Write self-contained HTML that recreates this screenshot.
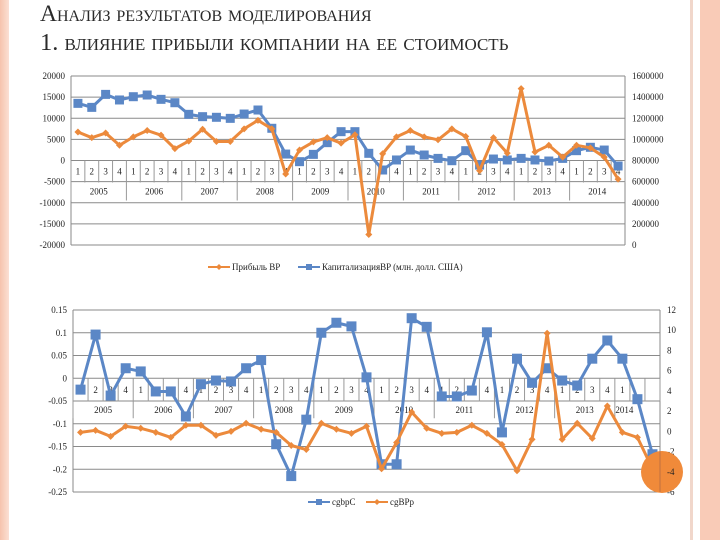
<!DOCTYPE html>
<html><head><meta charset="utf-8"><style>
body{margin:0;width:720px;height:540px;background:#fff;overflow:hidden;position:relative;font-family:"Liberation Serif",serif}
#lb{position:absolute;left:0;top:0;width:9px;height:540px;background:linear-gradient(90deg,#f6c3ad,#fbe0d4)}
#rb1{position:absolute;left:690px;top:0;width:3px;height:540px;background:#f1d7cb}
#rb2{position:absolute;left:700px;top:0;width:20px;height:540px;background:#f9cbb7}
.t{position:absolute;left:40px;color:#2a2a2a;font-variant:small-caps;white-space:nowrap}
</style></head><body>
<div id="lb"></div>
<div id="rb1"></div>
<div id="rb2"></div>
<div class="t" style="top:1px;font-size:23.5px">Анализ результатов моделирования</div>
<div class="t" style="top:29px;font-size:24.5px">1. влияние прибыли компании на ее стоимость</div>
<svg id="c" width="720" height="540" style="position:absolute;left:0;top:0"></svg>
<script>
const years=["2005","2006","2007","2008","2009","2010","2011","2012","2013","2014"];
const leftTicks1=["20000","15000","10000","5000","0","-5000","-10000","-15000","-20000"];
const rightTicks1=["1600000","1400000","1200000","1000000","800000","600000","400000","200000","0"];
const profit=[6750,5400,6500,3600,5600,7100,6000,2800,4600,7400,4500,4500,7500,9500,7500,-3200,2500,4400,5400,4100,6100,-17500,1600,5600,7100,5600,4900,7500,5700,-2400,5400,1750,17000,2000,3600,800,3600,3000,800,-4400];
const cap=[1341000,1303000,1426000,1373000,1404000,1420000,1379000,1347000,1237000,1215000,1209000,1199000,1240000,1278000,1105000,861000,789000,858000,969000,1073000,1073000,868000,710000,805000,899000,852000,820000,798000,893000,757000,814000,805000,820000,805000,795000,820000,893000,925000,899000,748000];
const leftTicks2=["0.15","0.1","0.05","0","-0.05","-0.1","-0.15","-0.2","-0.25"];
const rightTicks2=["12","10","8","6","4","2","0","-2","-4","-6"];
const cgbpC=[-0.025,0.096,-0.038,0.022,0.015,-0.029,-0.029,-0.084,-0.013,-0.005,-0.007,0.022,0.04,-0.145,-0.215,-0.091,0.1,0.122,0.114,0.002,-0.189,-0.189,0.132,0.113,-0.04,-0.04,-0.027,0.101,-0.119,0.043,-0.01,0.022,-0.005,-0.016,0.043,0.083,0.043,-0.046,-0.167];
const cgBPp=[-0.1,0.1,-0.5,0.5,0.3,-0.1,-0.6,0.6,0.6,-0.4,0,0.8,0.2,-0.1,-1.4,-1.8,0.8,0.2,-0.2,0.5,-3.7,-1.1,1.9,0.3,-0.2,-0.1,0.6,-0.2,-1.3,-3.9,-0.8,9.7,-0.8,0.8,-0.7,2.5,-0.1,-0.6,-3.7];

const svg=document.getElementById('c');const NS="http://www.w3.org/2000/svg";
function el(t,a,txt){const e=document.createElementNS(NS,t);for(const k in a)e.setAttribute(k,a[k]);if(txt!==undefined)e.textContent=txt;svg.appendChild(e);return e;}
const F='font-family:"Liberation Serif",serif;font-size:9px;fill:#222';

function chart(o){
  const {x0,x1,yT,yB,lMin,lMax,rMin,rMax,n,qLabels,yearRow,name}=o;
  const w=(x1-x0)/n;
  const yl=v=>yB-(v-lMin)/(lMax-lMin)*(yB-yT);
  const yr=v=>yB-(v-rMin)/(rMax-rMin)*(yB-yT);
  const xc=i=>x0+w*(i+0.5);
  o.lt.forEach(t=>{const y=yl(+t);
    let g=el('line',{x1:x0,x2:x1,y1:y,y2:y,stroke:'#8a8a8a','stroke-width':1});
    
    let tx=el('text',{x:x0-6,y:y+3,'text-anchor':'end',style:F},t);
    });
  o.rt.forEach(t=>{const y=yr(+t);
    let tx=el('text',{x:x1+7,y:y+3,style:F},t);
    });
  el('line',{x1:x0,x2:x0,y1:yT,y2:yB,stroke:'#8a8a8a'});
  el('line',{x1:x1,x2:x1,y1:yT,y2:yB,stroke:'#8a8a8a'});
  const z=yl(0);
  for(let i=0;i<n;i++){
    el('line',{x1:x0+w*i,x2:x0+w*i,y1:z,y2:z+o.qh,stroke:'#999'});
    let q=el('text',{x:xc(i),y:z+o.qh/2+3,'text-anchor':'middle',style:F},qLabels[i]);
    
  }
  el('line',{x1:x0+w*n,x2:x0+w*n,y1:z,y2:z+o.qh,stroke:'#999'});
  years.forEach((yv,k)=>{const s=k*4,e=Math.min(n,s+4);
    el('line',{x1:x0+w*s,x2:x0+w*s,y1:z+o.qh,y2:z+o.qh+o.yh,stroke:'#999'});
    let t=el('text',{x:x0+w*(s+e)/2+(k==9?o.lastShift:0),y:z+o.qh+o.yh/2+3,'text-anchor':'middle',style:F},yv);
    });
  return {xc,yl,yr,w};
}
function series(ax,data,yf,color,marker,name,hw){
  const pts=data.map((v,i)=>[ax.xc(i),yf(v)]);
  let p=el('polyline',{points:pts.map(p=>p.join(',')).join(' '),fill:'none',stroke:color,'stroke-width':3,'stroke-linejoin':'round'});
  
  pts.forEach(([x,y])=>{let m;
    if(marker=='sq')m=el('rect',{x:x-hw,y:y-hw,width:2*hw,height:2*hw,fill:color});
    else m=el('path',{d:`M${x} ${y-hw}L${x+hw} ${y}L${x} ${y+hw}L${x-hw} ${y}Z`,fill:color});
    });
}
const q40=[];for(let i=0;i<40;i++)q40.push(String(i%4+1));
const a1=chart({x0:71,x1:625,yT:76,yB:245,lMin:-20000,lMax:20000,rMin:0,rMax:1600000,n:40,qLabels:q40,qh:22,yh:18,lastShift:0,lt:leftTicks1,rt:rightTicks1,name:'top-chart'});
series(a1,cap,a1.yr,'#5b87c6','sq','capitalization',4.5);
series(a1,profit,a1.yl,'#ec8a3c','dia','profit',3.5);
const q39=q40.slice(0,37).concat(["",""]);
const a2=chart({x0:73,x1:660,yT:310,yB:492,lMin:-0.25,lMax:0.15,rMin:-6,rMax:12,n:39,qLabels:q39,qh:23,yh:17,lastShift:-13,lt:leftTicks2,rt:rightTicks2,name:'bottom-chart'});
series(a2,cgbpC,a2.yl,'#5b87c6','sq','cgbpc',5);
series(a2,cgBPp,a2.yr,'#ec8a3c','dia','cgbpp',3.5);
let c=el('circle',{cx:662,cy:472,r:21,fill:'#f08a3a'});

el('line',{x1:660,x2:660,y1:451,y2:492,stroke:'#c07040'});
el('text',{x:667,y:475,style:F},'-4');
function leg(x,y,color,marker,label,name){
  el('line',{x1:x,x2:x+22,y1:y,y2:y,stroke:color,'stroke-width':2});
  let m=marker=='sq'?el('rect',{x:x+8,y:y-3,width:6,height:6,fill:color}):el('path',{d:`M${x+11} ${y-3}L${x+14} ${y}L${x+11} ${y+3}L${x+8} ${y}Z`,fill:color});
  let t=el('text',{x:x+24,y:y+3,style:F},label);
  
}
leg(208,267,'#ec8a3c','dia','Прибыль BP','legend-profit');
leg(298,267,'#5b87c6','sq','КапитализацияBP (млн. долл. США)','legend-capitalization');
leg(308,502,'#5b87c6','sq','cgbpC','legend-cgbpc');
leg(366,502,'#ec8a3c','dia','cgBPp','legend-cgbpp');
</script>
</body></html>
